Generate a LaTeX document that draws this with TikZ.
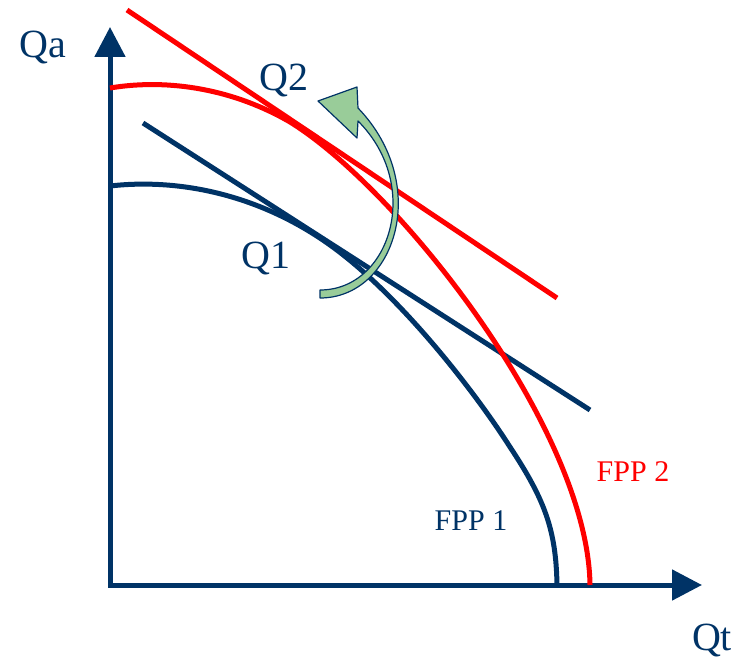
\documentclass[tikz,border=0pt]{standalone}
\usepackage{fontspec}
\setmainfont{Liberation Serif}
\definecolor{darkblue}{RGB}{0,51,102}
\definecolor{brightred}{RGB}{255,0,0}
\definecolor{palegreen}{RGB}{153,204,153}
\colorlet{navy}{darkblue}
\usetikzlibrary{arrows.meta}

\begin{document}
\begin{tikzpicture}[x=1pt, y=-1pt,
  axis/.style={draw=navy, line width=5pt,
    {Triangle[length=30pt, width=30pt]}-{Triangle[length=30pt, width=30pt]}},
  frontier/.style={line width=5pt},
  tangent/.style={line width=5pt},
  axislabel/.style={text=navy, inner sep=0pt, font=\fontsize{40}{40}\selectfont},
  curvelabel/.style={inner sep=0pt, font=\fontsize{30}{30}\selectfont},
  shiftarrow/.style={fill=palegreen, draw=navy, line width=1.2pt, line join=round},
]
  \useasboundingbox (0,0) rectangle (739,661);
  % axes
  \coordinate (origin) at (110,585);
  \coordinate (qatip) at (110,27);
  \coordinate (qttip) at (702,585);
  \draw[axis] (qatip) -- (origin) -- (qttip);
  \node[axislabel] (qa) at (43,48) {Qa};
  \node[axislabel] (qt) at (712,640) {Qt};

  % FPP 1 and its tangent
  \draw[frontier, navy] (110,186) .. controls (180,178) and (260,195) .. (330,245)
    .. controls (400,295) and (475,392) .. (510,447)
    .. controls (545,500) and (556,530) .. (557,585);
  \coordinate (t1a) at (143,123);
  \coordinate (t1b) at (590,410);
  \draw[tangent, navy] (t1a) -- (t1b);

  % FPP 2 and its tangent
  \draw[frontier, brightred] (110,88) .. controls (170,78) and (235,90) .. (290,122)
    .. controls (400,190) and (588,430) .. (590,585);
  \coordinate (t2a) at (127,10);
  \coordinate (t2b) at (557,298);
  \draw[tangent, brightred] (t2a) -- (t2b);

  % shift arrow
  \draw[shiftarrow] (320,298) .. controls (395,298) and (432,185) .. (358,108)
    -- (357,87) -- (318,101) -- (357,138) -- (358,121)
    .. controls (423,186) and (390,290) .. (320,290) -- cycle;

  \node[axislabel] (q2) at (284,80) {Q2};
  \node[axislabel] (q1) at (266,258) {Q1};
  \node[curvelabel, text=brightred] (fpp2) at (633,472) {FPP 2};
  \node[curvelabel, text=navy] (fpp1) at (471,521) {FPP 1};
\end{tikzpicture}
\end{document}
